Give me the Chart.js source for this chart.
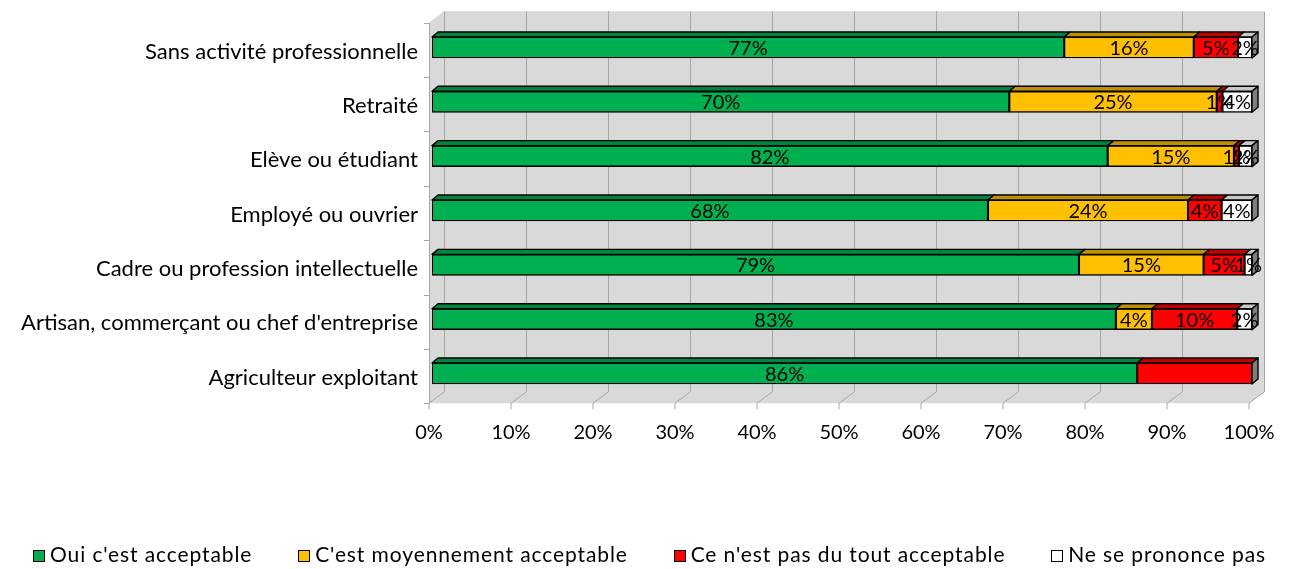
<!DOCTYPE html>
<html>
<head>
<meta charset="utf-8">
<script src="https://cdn.jsdelivr.net/npm/chart.js@4.4.0/dist/chart.umd.min.js"></script>
<style>
  html, body { margin: 0; background: #fff; }
  canvas { display: block; }
</style>
</head>
<body>
<canvas id="chart" width="1291" height="569"></canvas>
<script>
const categories = [
  'Sans activité professionnelle',
  'Retraité',
  'Elève ou étudiant',
  'Employé ou ouvrier',
  'Cadre ou profession intellectuelle',
  "Artisan, commerçant ou chef d'entreprise",
  'Agriculteur exploitant'
];
const seriesNames = [
  "Oui c'est acceptable",
  "C'est moyennement acceptable",
  "Ce n'est pas du tout acceptable",
  'Ne se prononce pas'
];
// shares in %
const oui       = [77.1, 70.4, 82.4, 67.8, 78.9, 83.4, 86.0];
const moyen     = [15.8, 25.3, 15.4, 24.4, 15.2, 4.4, 0];
const pasDuTout = [5.4, 0.7, 0.6, 4.1, 5.0, 10.4, 14.0];
const nsp       = [1.7, 3.6, 1.6, 3.7, 0.9, 1.8, 0];
// the red share of 'Agriculteur exploitant' carries no label in the original
const unlabelled = [[2, 6]];

const fills = ['#00B050', '#FFC000', '#FF0000', '#FFFFFF'];
const tops  = ['#00853C', '#BF9000', '#C00000', '#C8C8C8'];
const FONT = 'Lato';

const DX = 6, DY = 5;          // bar depth
const FRONT = [-3, 2.5];       // front plane offset from bar face
const BACK = [12, -9];         // back wall offset from bar face

const walls = {
  id: 'walls',
  beforeDatasetsDraw(chart) {
    const {ctx, chartArea: a, scales: {x}} = chart;
    const ft = a.top + FRONT[1], fb = a.bottom + FRONT[1];
    const bt = a.top + BACK[1], bb = a.bottom + BACK[1];
    const fx = v => x.getPixelForValue(v) + FRONT[0];
    const bx = v => x.getPixelForValue(v) + BACK[0];
    ctx.save();
    ctx.fillStyle = '#D9D9D9';
    ctx.beginPath();
    ctx.moveTo(fx(0), fb);
    ctx.lineTo(fx(0), ft);
    ctx.lineTo(bx(0), bt);
    ctx.lineTo(bx(100), bt);
    ctx.lineTo(bx(100), bb);
    ctx.lineTo(fx(100), fb);
    ctx.closePath();
    ctx.fill();
    ctx.strokeStyle = '#A6A6A6';
    ctx.lineWidth = 1;
    for (let v = 0; v <= 100; v += 10) {
      ctx.beginPath();
      ctx.moveTo(Math.round(bx(v)) + 0.5, bt);
      ctx.lineTo(Math.round(bx(v)) + 0.5, bb);
      ctx.lineTo(fx(v), fb);
      ctx.lineTo(fx(v), fb + 6);
      ctx.stroke();
    }
    // category axis
    ctx.beginPath();
    ctx.moveTo(Math.round(fx(0)) + 0.5, ft);
    ctx.lineTo(Math.round(fx(0)) + 0.5, fb);
    const step = (fb - ft) / categories.length;
    for (let k = 0; k <= categories.length; k++) {
      const y = Math.round(ft + k * step) + 0.5;
      ctx.moveTo(fx(0) - 5, y);
      ctx.lineTo(fx(0), y);
    }
    ctx.stroke();
    ctx.restore();
  },
  afterDatasetsDraw(chart) {
    const {ctx} = chart;
    const n = chart.data.datasets.length;
    ctx.save();
    ctx.lineWidth = 1.4;
    ctx.strokeStyle = '#000';
    ctx.lineJoin = 'round';
    // top faces
    for (let d = 0; d < n; d++) {
      chart.getDatasetMeta(d).data.forEach(bar => {
        const {x, y, base, height} = bar.getProps(['x', 'y', 'base', 'height'], true);
        if (x - base < 0.1) return;
        const t = y - height / 2;
        ctx.fillStyle = tops[d];
        ctx.beginPath();
        ctx.moveTo(base, t);
        ctx.lineTo(base + DX, t - DY);
        ctx.lineTo(x + DX, t - DY);
        ctx.lineTo(x, t);
        ctx.closePath();
        ctx.fill();
        ctx.stroke();
      });
    }
    // right side face of each bar
    categories.forEach((c, i) => {
      let last = null;
      for (let d = 0; d < n; d++) {
        const bar = chart.getDatasetMeta(d).data[i];
        if (bar.x - bar.base > 0.1) last = bar;
      }
      if (!last) return;
      const t = last.y - last.height / 2, b = last.y + last.height / 2;
      ctx.fillStyle = '#7F7F7F';
      ctx.beginPath();
      ctx.moveTo(last.x, t);
      ctx.lineTo(last.x + DX, t - DY);
      ctx.lineTo(last.x + DX, b - DY);
      ctx.lineTo(last.x, b);
      ctx.closePath();
      ctx.fill();
      ctx.stroke();
    });
    // value labels
    ctx.fillStyle = '#000';
    ctx.font = `20px ${FONT}`;
    ctx.textAlign = 'center';
    ctx.textBaseline = 'middle';
    for (let d = 0; d < n; d++) {
      const vals = chart.data.datasets[d].data;
      chart.getDatasetMeta(d).data.forEach((bar, i) => {
        if (!vals[i] || unlabelled.some(([s, c]) => s === d && c === i)) return;
        ctx.fillText(Math.round(vals[i]) + '%', (bar.x + bar.base) / 2, bar.y + 1);
      });
    }
    ctx.restore();
  },
  afterDraw(chart) {
    const {ctx} = chart;
    ctx.save();
    ctx.font = `21px ${FONT}`;
    ctx.letterSpacing = '0.9px';
    ctx.textBaseline = 'middle';
    const box = 11, gapBox = 6, cy = 555, from = 33, to = 1266;
    const widths = seriesNames.map(s => box + gapBox + ctx.measureText(s).width);
    const gap = (to - from - widths.reduce((s, w) => s + w, 0)) / (seriesNames.length - 1);
    let x = from;
    seriesNames.forEach((s, i) => {
      const bx = Math.round(x) + 0.5, by = Math.round(cy - box / 2) + 0.5;
      ctx.fillStyle = fills[i];
      ctx.fillRect(bx, by, box, box);
      ctx.strokeStyle = '#000';
      ctx.lineWidth = 1;
      ctx.strokeRect(bx, by, box, box);
      ctx.fillStyle = '#000';
      ctx.fillText(s, x + box + gapBox, cy);
      x += widths[i] + gap;
    });
    ctx.restore();
  }
};

const values = [oui, moyen, pasDuTout, nsp];

new Chart(document.getElementById('chart'), {
  type: 'bar',
  data: {
    labels: categories,
    datasets: seriesNames.map((name, i) => ({
      label: name,
      data: values[i],
      backgroundColor: fills[i],
      borderColor: '#000',
      borderWidth: 1.4,
      borderSkipped: false,
      barThickness: 21
    }))
  },
  options: {
    indexAxis: 'y',
    responsive: false,
    animation: false,
    layout: { padding: { top: 20.3, right: 39, left: 0, bottom: 0 } },
    plugins: { legend: { display: false }, tooltip: { enabled: false } },
    scales: {
      x: {
        stacked: true,
        min: 0,
        max: 100,
        grid: { display: false, drawTicks: false },
        border: { display: false },
        afterFit: s => {
          s.height = 569 - 20.3 - 380.4;
          s.paddingLeft = 0;
          s.paddingRight = 0;
        },
        ticks: {
          stepSize: 10,
          padding: 20,
          labelOffset: -3,
          color: '#000',
          font: { family: FONT, size: 20 },
          callback: v => v + '%'
        }
      },
      y: {
        stacked: true,
        grid: { display: false, drawTicks: false },
        border: { display: false },
        afterFit: s => {
          s.width = 432;
          s.paddingTop = 0;
          s.paddingBottom = 0;
        },
        ticks: {
          padding: 14,
          labelOffset: 4,
          color: '#000',
          font: { family: FONT, size: 22 }
        }
      }
    }
  },
  plugins: [walls]
});
</script>
</body>
</html>
